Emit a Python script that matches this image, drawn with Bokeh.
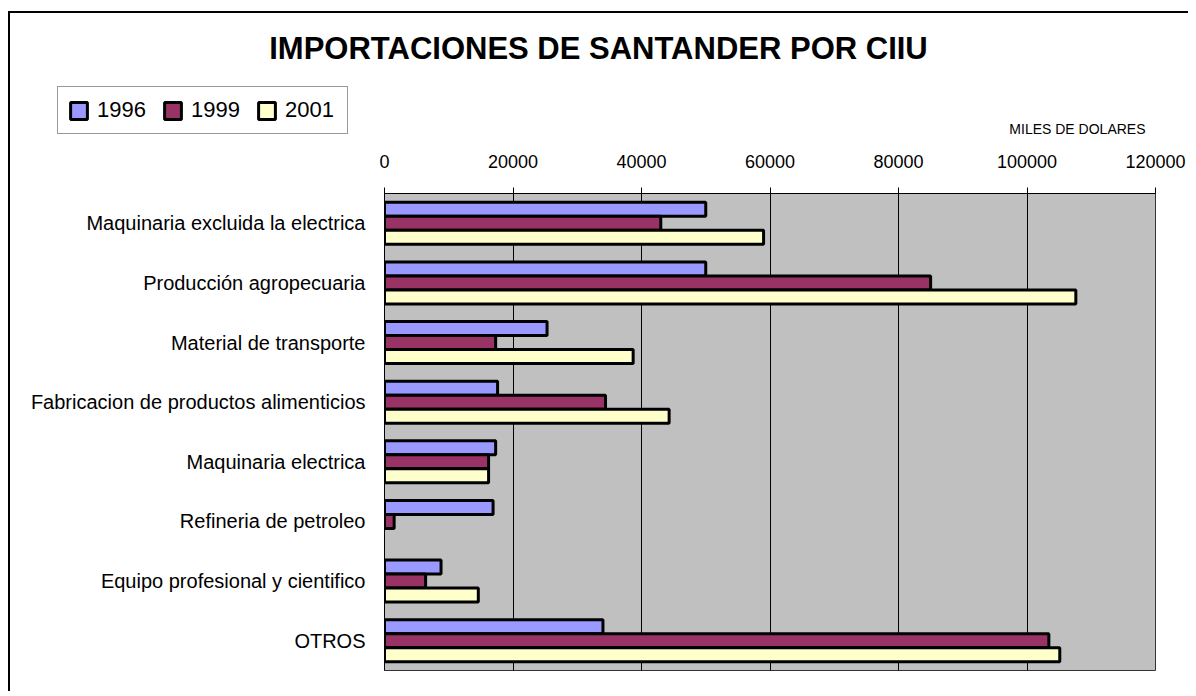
from bokeh.plotting import figure
from bokeh.models import (FactorRange, Range1d, Legend, LegendItem, Label,
                          FixedTicker, NumeralTickFormatter)
from bokeh.transform import dodge
from bokeh.embed import file_html
from bokeh.resources import INLINE

categories = [
    "Maquinaria excluida la electrica",
    "Producción agropecuaria",
    "Material de transporte",
    "Fabricacion de productos alimenticios",
    "Maquinaria electrica",
    "Refineria de petroleo",
    "Equipo profesional y cientifico",
    "OTROS",
]
years = ["1996", "1999", "2001"]
v1996 = [50000, 50000, 25300, 17600, 17300, 16900, 8800, 34000]
v1999 = [43000, 85000, 17300, 34400, 16200, 1500, 6400, 103400]
v2001 = [59000, 107600, 38700, 44300, 16200, float("nan"), 14600, 105100]
x_ticks = [0, 20000, 40000, 60000, 80000, 100000, 120000]

colors = ["#9999FF", "#993366", "#FFFFCC"]
series = ["v1996", "v1999", "v2001"]
FONT = "Liberation Sans"
W = 1180
HH = 127   # header height
HM = 553   # main chart height
data = dict(cat=categories, v1996=v1996, v1999=v1999, v2001=v2001)

# ---------------- main chart ----------------
p = figure(
    width=W, height=HM,
    y_range=FactorRange(*categories[::-1], range_padding=0),
    x_range=Range1d(0, 120000),
    x_axis_location="above",
    output_backend="svg", toolbar_location=None,
    min_border_left=374, min_border_right=35,
    min_border_top=55, min_border_bottom=21,
    background_fill_color="#C0C0C0",
    border_fill_color="white",
)
p.title = None
p.margin = (0, 0, 0, 8)
p.styles = {"border-left": "2px solid black"}

bh = 0.235
offsets = [bh, 0.0, -bh]
for col, off, c in zip(series, offsets, colors):
    p.hbar(y=dodge("cat", off, range=p.y_range), right=col, left=0,
           height=bh, source=data, fill_color=c,
           line_color="black", line_width=3)

p.ygrid.grid_line_color = None
p.xgrid.grid_line_color = "black"
p.xgrid.grid_line_width = 1
p.xgrid.ticker = FixedTicker(ticks=x_ticks)
p.outline_line_color = "#333333"
p.outline_line_width = 1

xa = p.xaxis[0]
xa.ticker = FixedTicker(ticks=x_ticks)
xa.formatter = NumeralTickFormatter(format="0")
xa.major_label_text_font = FONT
xa.major_label_text_font_size = "18px"
xa.major_label_text_color = "black"
xa.major_label_standoff = 20
xa.major_tick_out = 6
xa.major_tick_in = 0
xa.minor_tick_line_color = None
xa.axis_line_color = "black"
xa.major_tick_line_color = "black"

ya = p.yaxis[0]
ya.major_tick_line_color = None
ya.minor_tick_line_color = None
ya.axis_line_color = "black"
ya.major_label_text_font = FONT
ya.major_label_text_font_size = "20px"
ya.major_label_text_color = "black"
ya.major_label_standoff = 13

# ---------------- header (title, legend, units) ----------------
# header frame covers its whole canvas; ranges are in page pixels
h = figure(
    width=W, height=HH,
    x_range=Range1d(10, 10 + W), y_range=Range1d(13 + HH, 13),
    x_axis_location=None, y_axis_location=None,
    output_backend="svg", toolbar_location=None,
    min_border=0, outline_line_color=None,
    background_fill_color="white", border_fill_color="white",
)
h.title = None
h.grid.grid_line_color = None
h.margin = (11, 0, 0, 8)
h.styles = {"border-top": "2px solid black", "border-left": "2px solid black"}

# hidden renderers of the same series, only to carry the legend swatches
proxies = []
for col, c in zip(series, colors):
    proxies.append(h.hbar(y=0, right=col, left=0, height=1, source=data,
                          fill_color=c, line_color="black", line_width=3,
                          visible=False))

legend = Legend(
    items=[LegendItem(label=y, renderers=[r]) for y, r in zip(years, proxies)],
    orientation="horizontal",
    location=(47, 6),
    glyph_width=21, glyph_height=21, label_width=52,
    label_standoff=8, spacing=13, padding=10, margin=0,
    label_text_font=FONT, label_text_font_size="22px", label_text_color="black",
    border_line_color="#333333", border_line_width=1,
    background_fill_color="white", background_fill_alpha=1,
    inactive_fill_alpha=0,
)
h.add_layout(legend, "center")

h.add_layout(Label(x=598, y=48, text="IMPORTACIONES DE SANTANDER POR CIIU",
                   text_align="center", text_baseline="middle",
                   text_font=FONT, text_font_size="31px",
                   text_font_style="bold", text_color="black"))
h.add_layout(Label(x=1145, y=128, text="MILES DE DOLARES",
                   text_align="right", text_baseline="middle",
                   text_font=FONT, text_font_size="14px", text_color="black"))

open("out.html", "w").write(file_html([h, p], INLINE))
